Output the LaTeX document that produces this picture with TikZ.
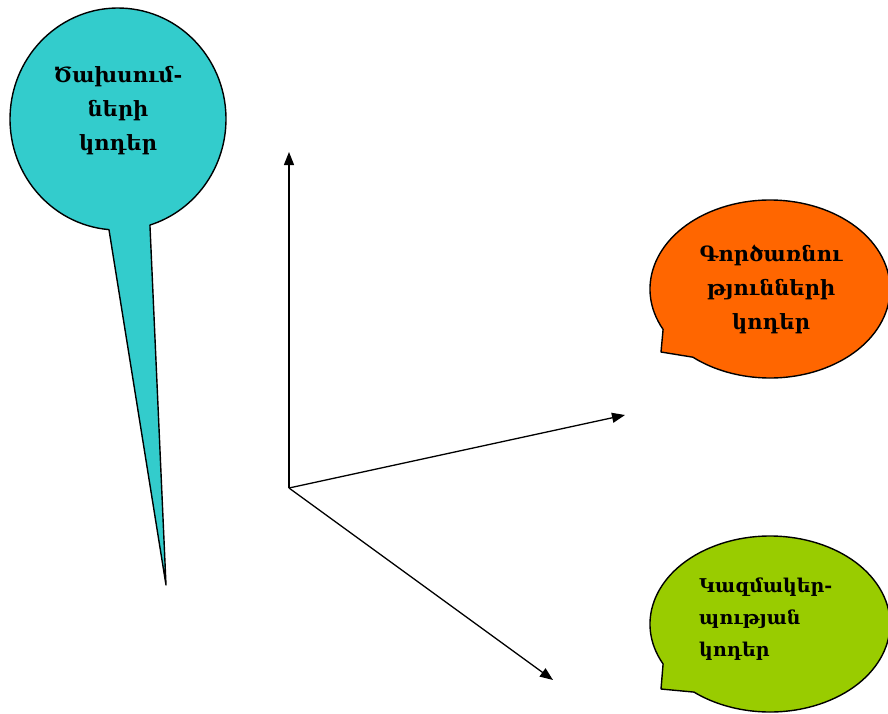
\documentclass[tikz,border=0pt]{standalone}
\usepackage{fontspec}
\setmainfont{DejaVu Serif}
\usetikzlibrary{arrows.meta}
\definecolor{cyanb}{HTML}{33CCCC}
\definecolor{orangeb}{HTML}{FF6600}
\definecolor{greenb}{HTML}{99CC00}
\tikzset{
  balloon/.style={draw=black, line width=1.4pt, line join=round},
  axis/.style={draw=black, line width=1.3pt, -{Triangle[length=13pt,width=10pt]}},
  lbl/.style={font=\fontsize{21}{34}\selectfont\bfseries, inner sep=0pt},
  lblsmall/.style={font=\fontsize{19}{32}\selectfont\bfseries, inner sep=0pt}
}
\begin{document}
\begin{tikzpicture}[x=1pt,y=-1pt]
\useasboundingbox (0,0) rectangle (888,713);
% cyan balloon
\path[balloon, fill=cyanb] (118,119) ++(94.8:108 and 111)
  arc[start angle=94.8, end angle=432.8, x radius=108, y radius=111]
  -- (166,585) -- cycle;
% orange balloon
\path[balloon, fill=orangeb] (770,289) ++(153:120 and 89)
  arc[start angle=153, end angle=490, x radius=120, y radius=89]
  -- (661,352) -- cycle;
% green balloon
\path[balloon, fill=greenb] (770,624) ++(153:120 and 88)
  arc[start angle=153, end angle=489.3, x radius=120, y radius=88]
  -- (661,689) -- cycle;
% texts
\node[lbl, align=center] (exp) at (118,111) {Ծախսում-\\ների\\կոդեր};
\node[lbl, align=center] (ops) at (771,289) {Գործառնու\\թյունների\\կոդեր};
\node[lblsmall, align=left, anchor=west] (org) at (699,619) {Կազմակեր-\\պության\\կոդեր};
% axes
\coordinate (o) at (289,488);
\coordinate (up) at (289,152);
\coordinate (rt) at (625,415);
\coordinate (dn) at (553,680);
\draw[axis] (o) -- (up);
\draw[axis] (o) -- (rt);
\draw[axis] (o) -- (dn);
\end{tikzpicture}
\end{document}
